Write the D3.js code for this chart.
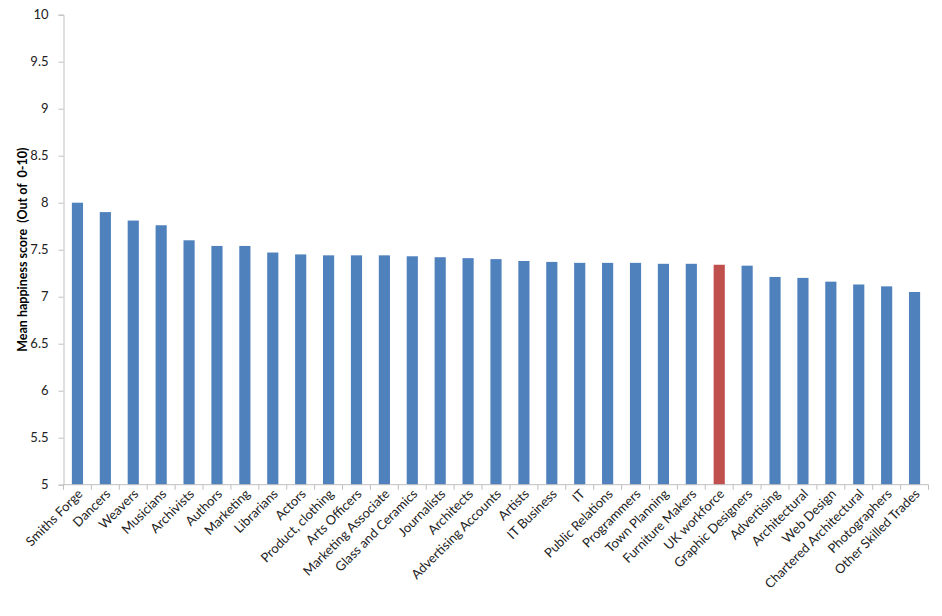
<!DOCTYPE html>
<html>
<head>
<meta charset="utf-8">
<script src="https://cdn.jsdelivr.net/npm/d3@7"></script>
<style>
  body { margin: 0; background: #fff; }
  svg { display: block; }
</style>
</head>
<body>
<svg id="chart"></svg>
<script>
const categories = [
  'Smiths Forge', 'Dancers', 'Weavers', 'Musicians', 'Archivists', 'Authors',
  'Marketing', 'Librarians', 'Actors', 'Product, clothing', 'Arts Officers',
  'Marketing Associate', 'Glass and Ceramics', 'Journalists', 'Architects',
  'Advertising Accounts', 'Artists', 'IT Business', 'IT', 'Public Relations',
  'Programmers', 'Town Planning', 'Furniture Makers', 'UK workforce',
  'Graphic Designers', 'Advertising', 'Architectural', 'Web Design',
  'Chartered Architectural', 'Photographers', 'Other Skilled Trades'
];
const scores = [
  8.00, 7.90, 7.81, 7.76, 7.60, 7.54,
  7.54, 7.47, 7.45, 7.44, 7.44,
  7.44, 7.43, 7.42, 7.41,
  7.40, 7.38, 7.37, 7.36, 7.36,
  7.36, 7.35, 7.35, 7.34,
  7.33, 7.21, 7.20, 7.16,
  7.13, 7.11, 7.05
];
const highlight = ['UK workforce'];
const yTicks = [5, 5.5, 6, 6.5, 7, 7.5, 8, 8.5, 9, 9.5, 10];

const cfg = {
  width: 942,
  height: 616,
  left: 63.5,
  right: 928.5,
  top: 14.7,
  bottom: 484.7,
  barColor: '#4F81BD',
  highlightColor: '#C0504D',
  axisColor: '#BFBFBF',
  textColor: '#222',
  font: 'Lato, "Open Sans", sans-serif',
};

const data = categories.map((c, i) => ({ name: c, value: scores[i] }));

const svg = d3.select('#chart')
  .attr('width', cfg.width)
  .attr('height', cfg.height);

// scales
const x = d3.scaleBand()
  .domain(categories)
  .range([cfg.left, cfg.right])
  .paddingInner(0.6)
  .paddingOuter(0.3);

const y = d3.scaleLinear()
  .domain([5, 10])
  .range([cfg.bottom, cfg.top]);

// bars
svg.append('g')
  .selectAll('rect')
  .data(data)
  .enter()
  .append('rect')
  .attr('x', d => x(d.name))
  .attr('y', d => y(d.value))
  .attr('width', x.bandwidth())
  .attr('height', d => y(5) - y(d.value))
  .attr('fill', d => highlight.indexOf(d.name) >= 0 ? cfg.highlightColor : cfg.barColor);

// y axis
const yAxis = svg.append('g')
  .attr('transform', 'translate(' + cfg.left + ',0)')
  .call(d3.axisLeft(y).tickValues(yTicks).tickSize(5).tickPadding(10).tickFormat(d3.format('')));

yAxis.select('.domain').attr('stroke', cfg.axisColor);
yAxis.selectAll('.tick line').attr('stroke', cfg.axisColor);
yAxis.selectAll('.tick text')
  .attr('fill', cfg.textColor)
  .style('font-family', cfg.font)
  .style('font-size', '13px');

// x axis (ticks at category boundaries)
const step = x.step();
const boundaries = d3.range(categories.length + 1);
const xAxis = svg.append('g')
  .attr('transform', 'translate(0,' + cfg.bottom + ')');

xAxis.append('line')
  .attr('x1', cfg.left)
  .attr('x2', cfg.right)
  .attr('stroke', cfg.axisColor);

xAxis.selectAll('.bound')
  .data(boundaries)
  .enter()
  .append('line')
  .attr('x1', i => cfg.left + i * step)
  .attr('x2', i => cfg.left + i * step)
  .attr('y2', 5)
  .attr('stroke', cfg.axisColor);

xAxis.selectAll('.label')
  .data(categories)
  .enter()
  .append('text')
  .text(d => d)
  .attr('text-anchor', 'end')
  .attr('transform', d => 'translate(' + (x(d) + x.bandwidth() / 2 + 6) + ',10) rotate(-45)')
  .attr('fill', cfg.textColor)
  .style('font-family', cfg.font)
  .style('font-size', '13px');

// y axis title
svg.append('text')
  .text('Mean happiness score  (Out of  0-10)')
  .attr('transform', 'translate(27,' + ((cfg.top + cfg.bottom) / 2) + ') rotate(-90)')
  .attr('text-anchor', 'middle')
  .attr('fill', '#000')
  .style('font-family', cfg.font)
  .style('font-weight', 'bold')
  .style('font-size', '12.5px')
  .style('white-space', 'pre');
</script>
</body>
</html>
